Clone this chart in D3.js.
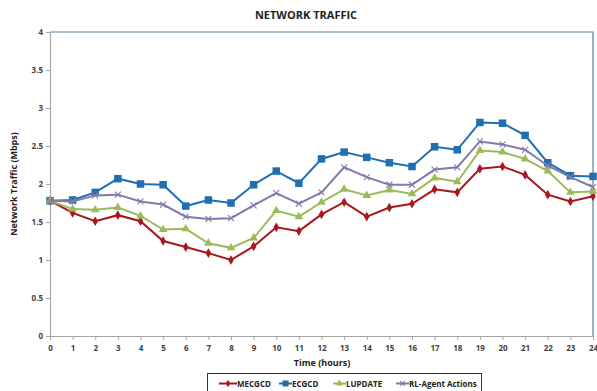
<!DOCTYPE html>
<html>
<head>
<meta charset="utf-8">
<script src="https://cdn.jsdelivr.net/npm/d3@7"></script>
<style>
  body { margin: 0; background: #fff; }
  svg { display: block; font-family: "Open Sans", "Liberation Sans", sans-serif; }
</style>
</head>
<body>
<div class="svg-container"></div>
<script>
// chart data
const hours = d3.range(0, 25);
const mecgcd  = [1.78, 1.62, 1.51, 1.59, 1.51, 1.25, 1.17, 1.09, 1.00, 1.18, 1.43, 1.38, 1.60, 1.76, 1.57, 1.69, 1.74, 1.93, 1.89, 2.20, 2.23, 2.12, 1.86, 1.77, 1.84];
const ecgcd   = [1.78, 1.79, 1.89, 2.07, 2.00, 1.99, 1.71, 1.79, 1.75, 1.99, 2.17, 2.01, 2.33, 2.42, 2.35, 2.28, 2.23, 2.49, 2.45, 2.81, 2.80, 2.64, 2.28, 2.11, 2.10];
const lupdate = [1.78, 1.67, 1.66, 1.69, 1.58, 1.40, 1.41, 1.22, 1.16, 1.29, 1.65, 1.57, 1.76, 1.93, 1.85, 1.92, 1.87, 2.08, 2.03, 2.44, 2.42, 2.33, 2.17, 1.89, 1.90];
const rlAgent = [1.78, 1.77, 1.85, 1.86, 1.77, 1.73, 1.57, 1.54, 1.55, 1.72, 1.88, 1.74, 1.89, 2.22, 2.09, 1.99, 1.99, 2.19, 2.22, 2.56, 2.52, 2.45, 2.24, 2.09, 1.96];
const yTicks = [0, 0.5, 1, 1.5, 2, 2.5, 3, 3.5, 4];
const seriesNames = ["MECGCD", "ECGCD", "LUPDATE", "RL-Agent Actions"];

const series = [
    { name: seriesNames[0], values: mecgcd,  color: "#a8161e", marker: "diamond" },
    { name: seriesNames[1], values: ecgcd,   color: "#1f6fb2", marker: "square" },
    { name: seriesNames[2], values: lupdate, color: "#9bbb59", marker: "triangle" },
    { name: seriesNames[3], values: rlAgent, color: "#8579ab", marker: "cross" }
];

const W = 597, H = 391;
const plot = { left: 50, right: 593, top: 32, bottom: 336 };

const svg = d3.select('.svg-container').append('svg')
    .attr('width', W)
    .attr('height', H);

const x = d3.scaleLinear().domain([0, 24]).range([plot.left, plot.right]);
const y = d3.scaleLinear().domain([0, 4]).range([plot.bottom, plot.top]);

/**
*  title
*/
svg.append('text')
    .attr('x', 306)
    .attr('y', 19)
    .attr('text-anchor', 'middle')
    .style('font-size', '11px')
    .style('font-weight', 'bold')
    .attr('fill', '#222')
    .text("NETWORK TRAFFIC");

/**
*  plot frame (top + right)
*/
svg.append('path')
    .attr('d', `M${plot.left},${plot.top}H${plot.right}V${plot.bottom}`)
    .attr('fill', 'none')
    .attr('stroke', '#5a7d9a')
    .attr('stroke-width', 1.2);

/**
*  axes
*/
const yAxis = svg.append('g')
    .attr('transform', `translate(${plot.left},0)`)
    .call(d3.axisLeft(y).tickValues(yTicks).tickFormat(d3.format("")).tickSize(4).tickSizeOuter(0));

const xAxis = svg.append('g')
    .attr('transform', `translate(0,${plot.bottom})`)
    .call(d3.axisBottom(x).tickValues(hours).tickSize(4).tickSizeOuter(0));

[yAxis, xAxis].forEach(a => {
    a.select('.domain').attr('stroke', '#a6a6a6').attr('stroke-width', 1.2);
    a.selectAll('.tick line').attr('stroke', '#a6a6a6');
    a.selectAll('.tick text')
        .attr('fill', '#404040')
        .style('font-size', '8px')
        .style('font-weight', 'bold')
        .style('font-family', '"Open Sans", sans-serif');
});
yAxis.selectAll('.tick text').attr('x', -7);
xAxis.selectAll('.tick text').attr('y', 9);

// axis titles
svg.append('text')
    .attr('transform', `translate(17,184) rotate(-90)`)
    .attr('text-anchor', 'middle')
    .style('font-size', '9px')
    .style('font-weight', 'bold')
    .attr('fill', '#222')
    .text("Network Traffic (Mbps)");

svg.append('text')
    .attr('x', 322)
    .attr('y', 366)
    .attr('text-anchor', 'middle')
    .style('font-size', '9px')
    .style('font-weight', 'bold')
    .attr('fill', '#222')
    .text("Time (hours)");

/**
*  markers
*/
function drawMarker(g, type, color, size) {
    if (type === "square") {
        g.append('rect').attr('x', -size / 2).attr('y', -size / 2)
            .attr('width', size).attr('height', size).attr('fill', color);
    } else if (type === "diamond") {
        g.append('path').attr('d', d3.symbol(d3.symbolDiamond, size * size * 0.55)()).attr('fill', color);
    } else if (type === "triangle") {
        g.append('path').attr('d', d3.symbol(d3.symbolTriangle, size * size * 0.5)()).attr('fill', color);
    } else {
        const h = size / 2;
        g.append('path').attr('d', `M${-h},${-h}L${h},${h}M${-h},${h}L${h},${-h}`)
            .attr('stroke', color).attr('stroke-width', 1.1).attr('fill', 'none');
    }
}

const line = d3.line().x((d, i) => x(hours[i])).y(d => y(d));

const sizes = { diamond: 7, square: 7.5, triangle: 8, cross: 6 };

series.forEach(s => {
    const g = svg.append('g').attr('class', 'series');
    g.append('path')
        .datum(s.values)
        .attr('d', line)
        .attr('fill', 'none')
        .attr('stroke', s.color)
        .attr('stroke-width', 2);
    g.selectAll('g.pt')
        .data(s.values)
        .enter()
        .append('g')
        .attr('class', 'pt')
        .attr('transform', (d, i) => `translate(${x(hours[i])},${y(d)})`)
        .each(function () { drawMarker(d3.select(this), s.marker, s.color, sizes[s.marker]); });
});

/**
*  legend
*/
const legend = svg.append('g');
legend.append('rect')
    .attr('x', 207.5).attr('y', 373.5)
    .attr('width', 274).attr('height', 30)
    .attr('fill', '#fff')
    .attr('stroke', '#333')
    .attr('stroke-width', 1);

const legendX = [219, 279, 333, 396];
series.forEach((s, i) => {
    const lg = legend.append('g').attr('transform', `translate(${legendX[i]},383.5)`);
    const lw = i === 0 ? 18 : 13;
    lg.append('line').attr('x1', 0).attr('x2', lw)
        .attr('stroke', s.color).attr('stroke-width', 2);
    const mg = lg.append('g').attr('transform', `translate(${lw / 2},0)`);
    drawMarker(mg, s.marker, s.color, sizes[s.marker] - 1.5);
    lg.append('text')
        .attr('x', lw)
        .attr('y', 3)
        .style('font-size', '8px')
        .style('font-weight', 'bold')
        .attr('fill', '#222')
        .text(s.name);
});
</script>
</body>
</html>
